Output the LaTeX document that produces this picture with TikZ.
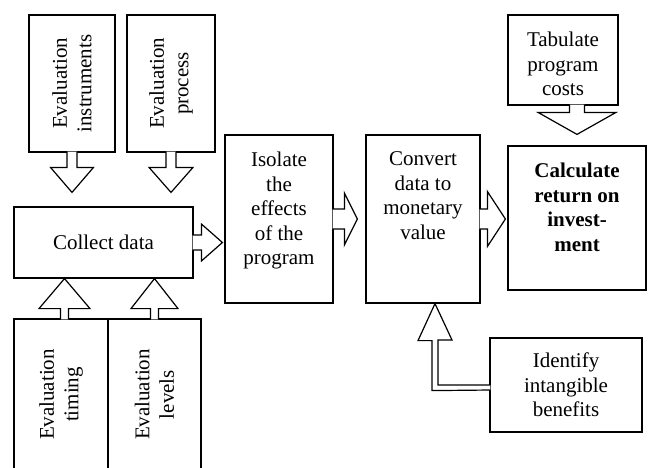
\documentclass[tikz,border=0pt]{standalone}
\usepackage{fontspec}
\setmainfont{Liberation Serif}
\usetikzlibrary{calc,positioning}

\begin{document}
\begin{tikzpicture}[x=1pt,y=-1pt,line width=1.2pt]
 % style des noeuds
  \tikzstyle{bloc}=[rectangle,draw,fill=white,align=center,inner sep=0pt,font=\fontsize{21}{24.5}\selectfont]
  \tikzstyle{texte}=[align=center,inner sep=0pt,font=\fontsize{21}{24.5}\selectfont]
 % style des fleches creuses : demi-largeur du corps, demi-largeur de la tete, longueur de la tete, ecart
  \tikzset{fleche/.style n args={4}{fill=white,to path={
    ($(\tikztostart)!-1pt!(\tikztotarget)!#1!90:(\tikztotarget)$)
    -- ($(\tikztotarget)!#3+#4!(\tikztostart)!#1!90:(\tikztotarget)$)
    -- ($(\tikztotarget)!#3+#4!(\tikztostart)!#2!90:(\tikztotarget)$)
    -- ($(\tikztotarget)!#4!(\tikztostart)$)
    -- ($(\tikztotarget)!#3+#4!(\tikztostart)!#2!-90:(\tikztotarget)$)
    -- ($(\tikztotarget)!#3+#4!(\tikztostart)!#1!-90:(\tikztotarget)$)
    -- ($(\tikztostart)!-1pt!(\tikztotarget)!#1!-90:(\tikztotarget)$)}}}
  \tikzstyle{contour}=[fill=white]
  \useasboundingbox (0,0) rectangle (648,467);
 % placement des noeuds
  \node[bloc,minimum width=86pt,minimum height=137pt] (instr) at (72,83.5) {};
  \node[texte,rotate=90] (instrT) at (instr) {Evaluation\\instruments};
  \node[bloc,minimum width=88pt,minimum height=137pt] (proc) at (171,83.5) {};
  \node[texte,rotate=90] (procT) at (proc) {Evaluation\\process};
  \node[bloc,minimum width=179pt,minimum height=71pt] (collect) at (103.5,242.5) {Collect data};
  \node[bloc,minimum width=94pt,minimum height=151pt] (timing) at (61,394.5) {};
  \node[texte,rotate=90] (timingT) at (timing) {Evaluation\\timing};
  \node[bloc,minimum width=93pt,minimum height=151pt] (levels) at (154.5,394.5) {};
  \node[texte,rotate=90] (levelsT) at (levels) {Evaluation\\levels};
  \node[bloc,minimum width=108pt,minimum height=168pt] (isol) at (279,219) {};
  \node[texte,below=17pt of isol.north] (isolT) {Isolate\\the\\effects\\of the\\program};
  \node[bloc,minimum width=114pt,minimum height=168pt] (conv) at (423,219) {};
  \node[texte,below=17pt of conv.north] (convT) {Convert\\data to\\monetary\\value};
  \node[bloc,minimum width=138pt,minimum height=144pt] (roi) at (577,218) {};
  \node[texte,font=\fontsize{21}{24.5}\selectfont\bfseries,below=17pt of roi.north] (roiT) {Calculate\\return on\\invest-\\ment};
  \node[bloc,minimum width=110pt,minimum height=90pt] (tab) at (563,60) {};
  \node[texte,below=17pt of tab.north] (tabT) {Tabulate\\program\\costs};
  \node[bloc,minimum width=152pt,minimum height=94pt] (ident) at (566,385) {Identify\\intangible\\benefits};
  \coordinate (pointe) at ([xshift=12pt]conv.south);
  \coordinate (depart) at ([xshift=3.5pt]timing.north);
 % placement des fleches
  \draw[fleche={5pt}{21.5pt}{25pt}{14pt}] (instr.south) to (instr.south |- collect.north);
  \draw[fleche={5pt}{22pt}{25pt}{14pt}] (proc.south) to (proc.south |- collect.north);
  \draw[fleche={7.5pt}{18.5pt}{21pt}{2pt}] (collect.east) to (collect.east -| isol.west);
  \draw[fleche={4pt}{25.5pt}{30pt}{0pt}] (depart) to (depart |- collect.south);
  \draw[fleche={4pt}{23.5pt}{30pt}{0pt}] (levels.north) to (levels.north |- collect.south);
  \draw[fleche={10pt}{26pt}{13pt}{8pt}] (isol.east) to (isol.east -| conv.west);
  \draw[fleche={10pt}{27.5pt}{18pt}{2pt}] (conv.east) to (conv.east -| roi.west);
  \draw[fleche={7.5pt}{39pt}{22pt}{11pt}] (tab.south -| roi.north) to (roi.north);
  \draw[contour] ([xshift=1pt]ident.west) -- ([xshift=3pt]ident.west -| pointe) -- ++(0,-45)
    -- ++(14,0) -- (pointe) -- ++(-17,37) -- ++(14,0) -- ++(0,50) -- ([xshift=1pt,yshift=-5pt]ident.west);
\end{tikzpicture}
\end{document}
